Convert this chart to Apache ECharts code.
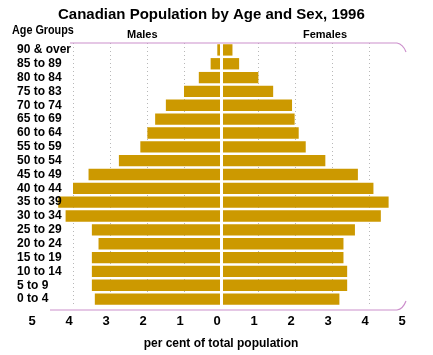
<!DOCTYPE html>
<html>
<head>
<meta charset="utf-8">
<script src="https://cdn.jsdelivr.net/npm/echarts@6/dist/echarts.min.js"></script>
<style>
html,body{margin:0;padding:0;background:#fff;}
#main{width:433px;height:355px;}
</style>
</head>
<body>
<div id="main"></div>
<script>
// Age groups, top to bottom as in the reference
var categories = ['90 & over','85 to 89','80 to 84','75 to 83','70 to 74','65 to 69','60 to 64','55 to 59','50 to 54','45 to 49','40 to 44','35 to 39','30 to 34','25 to 29','20 to 24','15 to 19','10 to 14','5 to 9','0 to 4'];
// per cent of total population
var males   = [0.1, 0.28, 0.6, 1.0, 1.49, 1.78, 1.99, 2.18, 2.76, 3.58, 4.0, 4.4, 4.2, 3.49, 3.31, 3.49, 3.49, 3.49, 3.41];
var females = [0.31, 0.49, 1.01, 1.41, 1.92, 1.99, 2.1, 2.29, 2.82, 3.7, 4.12, 4.53, 4.32, 3.62, 3.31, 3.31, 3.41, 3.41, 3.2];
var xTicks = [-5,-4,-3,-2,-1,0,1,2,3,4,5];

var FONT = '"Liberation Sans", Arial, sans-serif';
var BAR = '#CC9900';
var PINK = '#cc8fcc';

var chart = echarts.init(document.getElementById('main'), null, {renderer:'canvas'});
var gridColors = xTicks.map(function(v){ return (Math.abs(v) === 5 || v === 0) ? 'rgba(0,0,0,0)' : '#b8b8b8'; });

chart.setOption({
  animation: false,
  backgroundColor: '#fff',
  title: {
    text: 'Canadian Population by Age and Sex, 1996',
    left: 53, top: 2,
    textStyle: {fontFamily: FONT, fontSize: 15, fontWeight: 'bold', color: '#000'}
  },
  grid: {left: 36, right: 27, top: 43, bottom: 45, containLabel: false},
  xAxis: {
    type: 'value', min: xTicks[0], max: xTicks[xTicks.length-1], interval: 1,
    name: 'per cent of total population', nameLocation: 'middle', nameGap: 32,
    nameTextStyle: {fontFamily: FONT, fontSize: 12, fontWeight: 'bold', color: '#000'},
    axisLine: {show: false}, axisTick: {show: false},
    axisLabel: {
      margin: 9, fontFamily: FONT, fontSize: 13, fontWeight: 'bold', color: '#000',
      padding: [0, 8, 0, 0],
      formatter: function(v){ return String(Math.abs(v)); }
    },
    splitLine: {show: true, lineStyle: {type: [1, 3], color: gridColors, width: 1}}
  },
  yAxis: {
    type: 'category', data: categories, inverse: true, z: 5,
    axisLine: {show: false}, axisTick: {show: false},
    axisLabel: {interval: 0, align: 'left', margin: 19, fontFamily: FONT, fontSize: 12, fontWeight: 'bold', color: '#000'}
  },
  series: [
    {
      name: 'Males', type: 'bar', stack: 'pop', barCategoryGap: '18%',
      itemStyle: {color: BAR},
      data: males.map(function(v){ return -v; }),
      markLine: {
        silent: true, symbol: 'none', label: {show: false},
        lineStyle: {color: '#fff', width: 3, type: 'solid'},
        data: [{xAxis: 0}]
      }
    },
    {
      name: 'Females', type: 'bar', stack: 'pop', barCategoryGap: '18%',
      itemStyle: {color: BAR},
      data: females
    }
  ],
  graphic: [
    {type: 'text', x: 12, y: 25, scaleX: 0.9, style: {text: 'Age Groups', font: 'bold 12px ' + FONT, fill: '#000'}},
    {type: 'text', x: 127, y: 29, style: {text: 'Males', font: 'bold 11px ' + FONT, fill: '#000'}},
    {type: 'text', x: 303, y: 29, style: {text: 'Females', font: 'bold 11px ' + FONT, fill: '#000'}},
    {type: 'line', shape: {x1: 70, y1: 43, x2: 397, y2: 43}, style: {stroke: PINK, lineWidth: 1.2}, z: 10},
    {type: 'bezierCurve', shape: {x1: 397, y1: 43, cpx1: 403, cpy1: 44, x2: 406, y2: 52}, style: {stroke: PINK, lineWidth: 1.2, fill: null}, z: 10},
    {type: 'line', shape: {x1: 50, y1: 310, x2: 397, y2: 310}, style: {stroke: PINK, lineWidth: 1.2}, z: 10},
    {type: 'bezierCurve', shape: {x1: 397, y1: 310, cpx1: 403, cpy1: 309, x2: 406, y2: 301}, style: {stroke: PINK, lineWidth: 1.2, fill: null}, z: 10}
  ]
});
</script>
</body>
</html>
